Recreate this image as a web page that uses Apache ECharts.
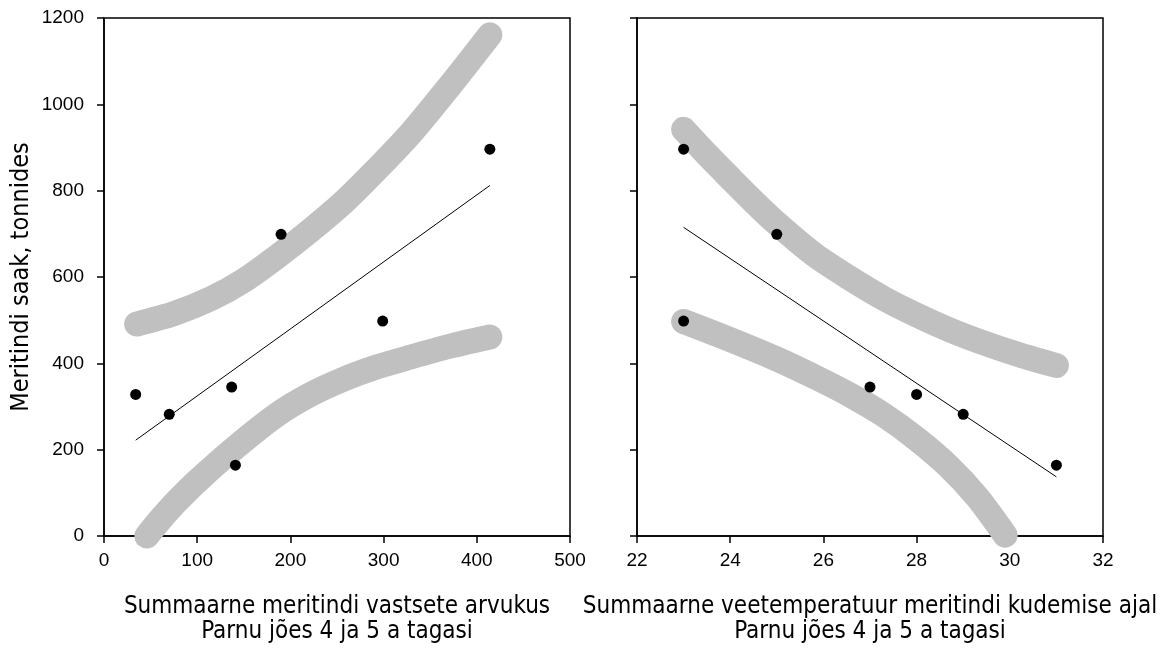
<!DOCTYPE html>
<html>
<head>
<meta charset="utf-8">
<script src="https://cdn.jsdelivr.net/npm/echarts@6/dist/echarts.min.js"></script>
<style>
html,body{margin:0;padding:0;background:#fff;}
#chart{width:1161px;height:649px;}
</style>
</head>
<body>
<div id="chart"></div>
<script>
// Observations (same years in both panels)
const yieldTonnes = [896, 699, 498, 345, 328, 282, 164];
const larvaeCount = [414, 190, 299, 137, 34, 70, 141];
const waterTemp   = [23, 25, 23, 27, 28, 29, 31];

// Regression lines (end points)
const leftFit  = [[34, 222], [414, 812]];
const rightFit = [[23, 715], [31, 137]];

// Confidence bands
const leftUpper  = [[35, 491], [75, 515], [115, 550], [150, 592], [185, 646], [220, 705], [257, 773], [292, 848], [328, 930], [370, 1040], [414, 1161]];
const leftLower  = [[46, 0], [60, 37], [78, 80], [100, 127], [141, 205], [185, 280], [220, 326], [257, 363], [292, 391], [328, 414], [370, 439], [414, 461]];
const rightUpper = [[23, 942], [23.5, 884], [24, 829], [24.5, 775], [25, 724], [25.8, 652], [26.6, 595], [27.3, 550], [28, 512], [28.7, 478], [29.4, 449], [30.2, 420], [31, 395]];
const rightLower = [[23, 497], [24, 455], [25, 410], [25.9, 364], [26.6, 325], [27.3, 280], [28, 225], [28.7, 160], [29.3, 90], [29.9, 2]];

// Axis settings
const yTicks = {min: 0, max: 1200, interval: 200};
const leftXTicks = {min: 0, max: 500, interval: 100};
const rightXTicks = {min: 22, max: 32, interval: 2};

const yTitle = 'Meritindi saak, tonnides';
const leftXTitle = 'Summaarne meritindi vastsete arvukus\nParnu jões 4 ja 5 a tagasi';
const rightXTitle = 'Summaarne veetemperatuur meritindi kudemise ajal\nParnu jões 4 ja 5 a tagasi';

const labelFont = {fontFamily: '"Liberation Sans", Arial, sans-serif', fontSize: 19, color: '#000'};
const titleFont = {fontFamily: '"Liberation Sans Narrow", "Arial Narrow", "DejaVu Sans Condensed", "Liberation Sans", sans-serif', fontSize: 24, color: '#000', lineHeight: 25};

const axisLine = {show: true, onZero: false, lineStyle: {color: '#000', width: 1.5}};
const axisTick = {show: true, inside: false, length: 7, lineStyle: {color: '#000', width: 1.5}};
const plain = v => String(v);

const zip = (xs, ys) => xs.map((x, i) => [x, ys[i]]);

const band = (xi, yi, data) => ({
  type: 'line', xAxisIndex: xi, yAxisIndex: yi, data: data, smooth: 0.3,
  showSymbol: false, symbol: 'none', clip: false, silent: true, z: 1,
  lineStyle: {color: '#c0c0c0', width: 25, cap: 'round', join: 'round'}
});
const fit = (xi, yi, data) => ({
  type: 'line', xAxisIndex: xi, yAxisIndex: yi, data: data, symbol: 'none', silent: true, z: 2,
  lineStyle: {color: '#000', width: 1}
});
const dots = (xi, yi, data) => ({
  type: 'scatter', xAxisIndex: xi, yAxisIndex: yi, data: data, symbol: 'circle', symbolSize: 11, z: 3,
  itemStyle: {color: '#000', opacity: 1}
});

const chart = echarts.init(document.getElementById('chart'), null, {renderer: 'canvas'});
chart.setOption({
  animation: false,
  backgroundColor: '#fff',
  grid: [
    {left: 104, top: 18, width: 466, height: 520, show: true, borderColor: '#000', borderWidth: 1.5, backgroundColor: 'transparent'},
    {left: 637, top: 18, width: 466, height: 520, show: true, borderColor: '#000', borderWidth: 1.5, backgroundColor: 'transparent'}
  ],
  xAxis: [
    Object.assign({type: 'value', gridIndex: 0, axisLine, axisTick, splitLine: {show: false},
      axisLabel: Object.assign({margin: 15, formatter: plain}, labelFont),
      name: leftXTitle, nameLocation: 'middle', nameGap: 58, nameTextStyle: titleFont}, leftXTicks),
    Object.assign({type: 'value', gridIndex: 1, axisLine, axisTick, splitLine: {show: false},
      axisLabel: Object.assign({margin: 15, formatter: plain}, labelFont),
      name: rightXTitle, nameLocation: 'middle', nameGap: 58, nameTextStyle: titleFont}, rightXTicks)
  ],
  yAxis: [
    Object.assign({type: 'value', gridIndex: 0, axisLine, axisTick, splitLine: {show: false},
      axisLabel: Object.assign({margin: 20, formatter: plain}, labelFont),
      name: yTitle, nameLocation: 'middle', nameRotate: 90, nameGap: 70,
      nameTextStyle: Object.assign({}, titleFont, {fontSize: 25})}, yTicks),
    Object.assign({type: 'value', gridIndex: 1, axisLine, axisTick, splitLine: {show: false},
      axisLabel: {show: false}}, yTicks)
  ],
  series: [
    band(0, 0, leftUpper), band(0, 0, leftLower),
    band(1, 1, rightUpper), band(1, 1, rightLower),
    fit(0, 0, leftFit), fit(1, 1, rightFit),
    dots(0, 0, zip(larvaeCount, yieldTonnes)),
    dots(1, 1, zip(waterTemp, yieldTonnes))
  ]
});
</script>
</body>
</html>
